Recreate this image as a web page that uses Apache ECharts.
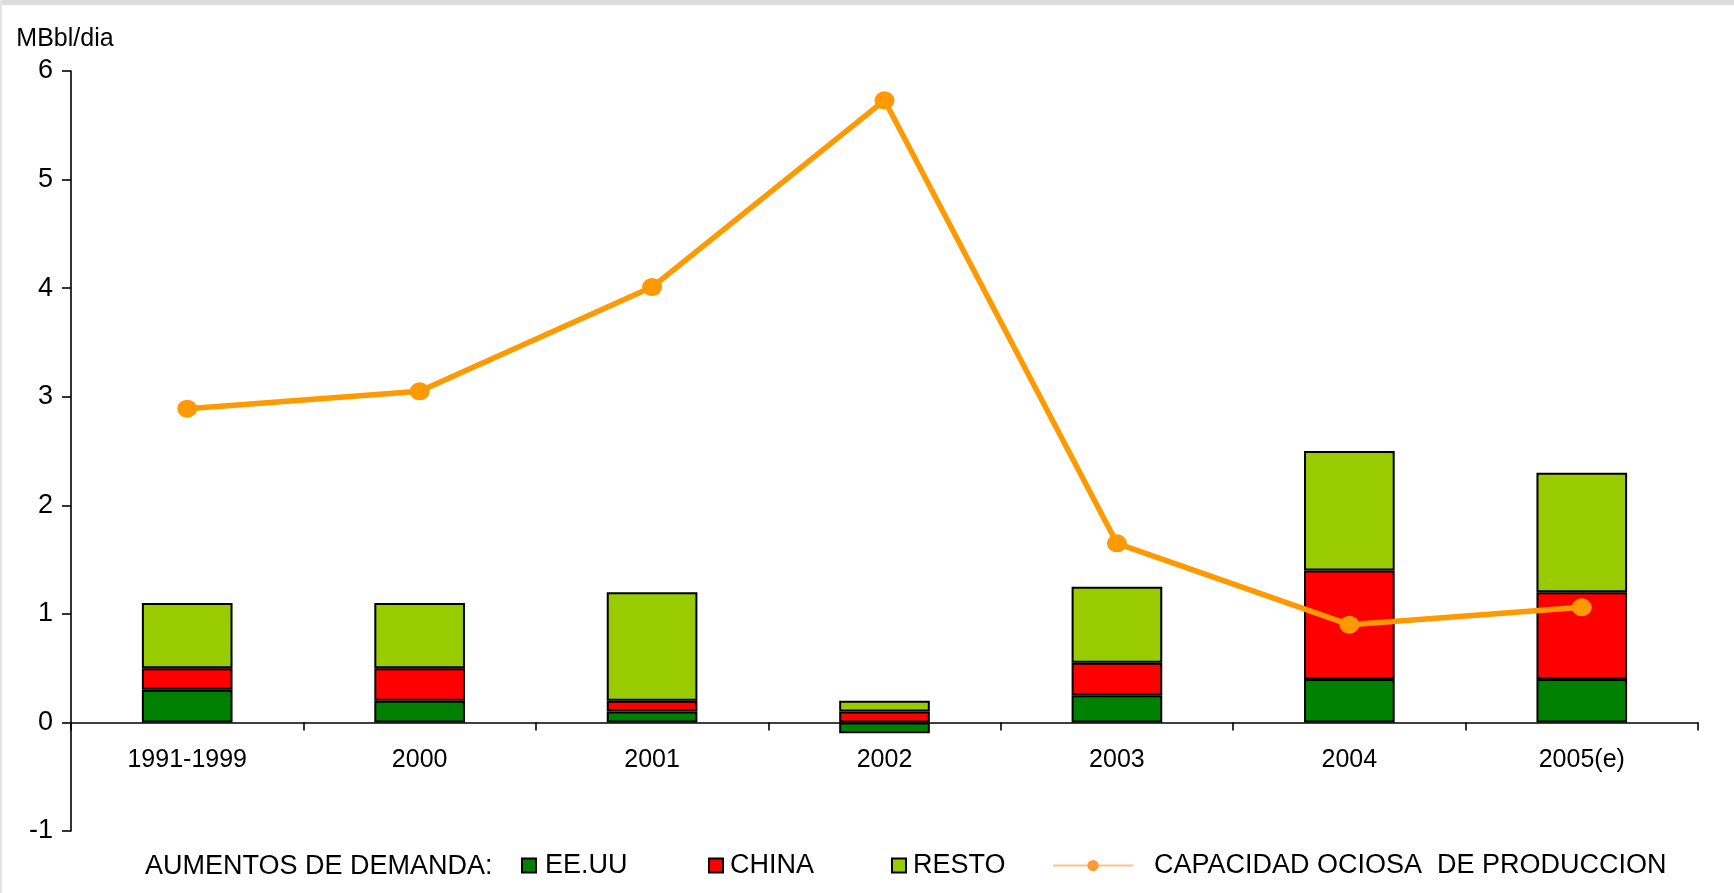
<!DOCTYPE html>
<html>
<head>
<meta charset="utf-8">
<style>
html,body{margin:0;padding:0;background:#fff;}
#chart{width:1734px;height:893px;}
</style>
<script src="https://cdn.jsdelivr.net/npm/echarts@6/dist/echarts.min.js"></script>
</head>
<body>
<div id="chart"></div>
<script>
const categories = ['1991-1999', '2000', '2001', '2002', '2003', '2004', '2005(e)'];
const eeuu = [0.3, 0.2, 0.1, -0.1, 0.25, 0.4, 0.4];
const china = [0.2, 0.3, 0.1, 0.1, 0.3, 1.0, 0.8];
const resto = [0.6, 0.6, 1.0, 0.1, 0.7, 1.1, 1.1];
const capacidad = [2.89, 3.05, 4.01, 5.73, 1.65, 0.9, 1.06];
const yTicks = { min: -1, max: 6, interval: 1 };

const axisFont = "'Liberation Sans', Arial, sans-serif";
const legendFont = "'Liberation Sans', Arial, sans-serif";
const legendTop = 852;
const legendSize = 27;

const chart = echarts.init(document.getElementById('chart'));
const barBorder = { borderColor: '#000', borderWidth: 2 };

function mkLegend(name, left, w, h, pad, icon) {
  const l = {
    data: [name], left: left, top: legendTop, itemWidth: w, itemHeight: h,
    padding: 0, selectedMode: false,
    textStyle: { fontFamily: legendFont, fontSize: legendSize, color: '#000', padding: [0, 0, 0, pad] }
  };
  if (icon) l.icon = icon;
  return l;
}

chart.setOption({
  animation: false,
  backgroundColor: '#fff',
  grid: { left: 71, right: 36, top: 71, bottom: 62, containLabel: false },
  xAxis: {
    type: 'category',
    data: categories,
    boundaryGap: true,
    axisLine: { onZero: true, lineStyle: { color: '#000', width: 1.6 } },
    axisTick: { show: true, alignWithLabel: false, length: 8, lineStyle: { color: '#000', width: 1.6 } },
    axisLabel: { color: '#000', fontFamily: axisFont, fontSize: 25, margin: -83 },
    splitLine: { show: false }
  },
  yAxis: {
    type: 'value',
    min: yTicks.min, max: yTicks.max, interval: yTicks.interval,
    name: 'MBbl/dia',
    nameLocation: 'end',
    nameGap: 19,
    nameTextStyle: { color: '#000', fontFamily: axisFont, fontSize: 25, align: 'center', padding: [0, 12, 0, 0] },
    axisLine: { show: true, lineStyle: { color: '#000', width: 1.6 } },
    axisTick: { show: true, length: 9, lineStyle: { color: '#000', width: 1.6 } },
    axisLabel: { color: '#000', fontFamily: axisFont, fontSize: 27, margin: 18 },
    splitLine: { show: false }
  },
  legend: [
    mkLegend('EE.UU', 521, 14, 14, 4, 'rect'),
    mkLegend('CHINA', 708, 14, 14, 2, 'rect'),
    mkLegend('RESTO', 891, 14, 14, 2, 'rect'),
    Object.assign(mkLegend('CAPACIDAD OCIOSA  DE PRODUCCION', 1052, 80, 14, 16), {
      lineStyle: { color: '#FFC285', width: 2 },
      itemStyle: { color: '#FF9933' }
    })
  ],
  graphic: [
    { type: 'rect', left: 0, top: 0, shape: { width: 1734, height: 5 }, style: { fill: '#dddddd' }, silent: true },
    { type: 'rect', left: 0, top: 0, shape: { width: 2, height: 893 }, style: { fill: '#e4e4e4' }, silent: true },
    { type: 'text', left: 145, top: legendTop + 1, style: { text: 'AUMENTOS DE DEMANDA:', font: legendSize + "px " + legendFont, fill: '#000' } }
  ],
  series: [
    { name: 'EE.UU', type: 'bar', stack: 'd', data: eeuu, barWidth: '39%', itemStyle: Object.assign({ color: '#008000' }, barBorder) },
    { name: 'CHINA', type: 'bar', stack: 'd', data: china, barWidth: '39%', itemStyle: Object.assign({ color: '#FF0000' }, barBorder) },
    { name: 'RESTO', type: 'bar', stack: 'd', data: resto, barWidth: '39%', itemStyle: Object.assign({ color: '#99CC00' }, barBorder) },
    {
      name: 'CAPACIDAD OCIOSA  DE PRODUCCION', type: 'line', data: capacidad,
      symbol: 'circle', symbolSize: [20, 18],
      lineStyle: { color: '#FF9900', width: 5.5 },
      itemStyle: { color: '#FF9900' },
      z: 5
    }
  ]
});
</script>
</body>
</html>
